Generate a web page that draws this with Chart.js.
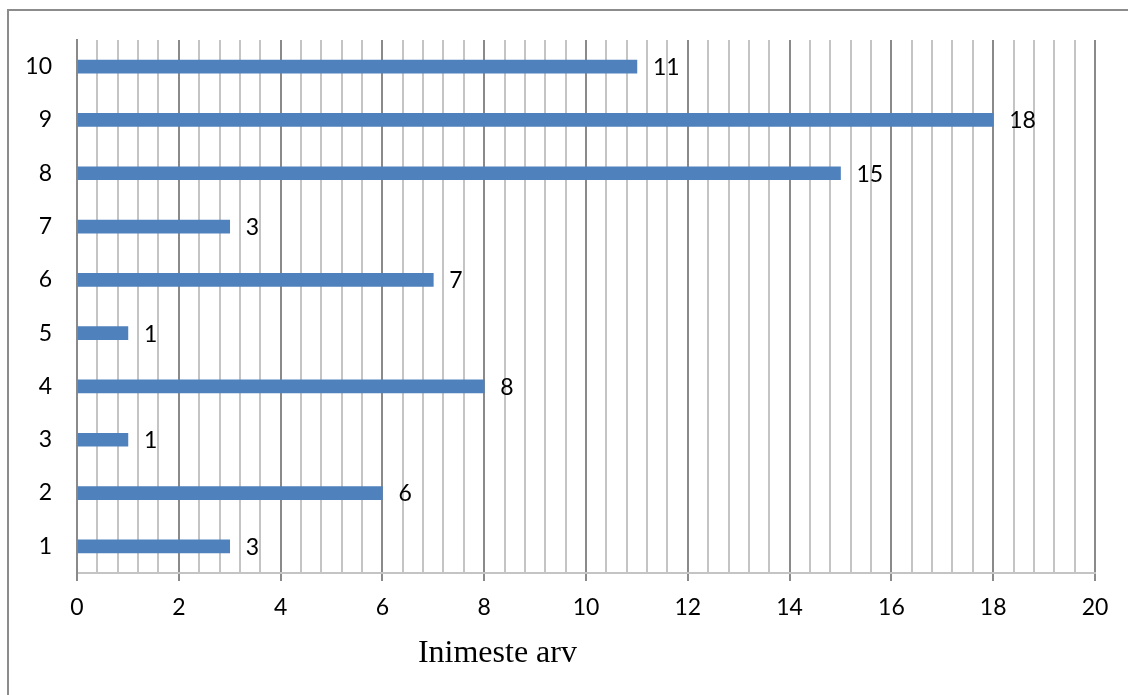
<!DOCTYPE html>
<html>
<head>
<meta charset="utf-8">
<script src="https://cdn.jsdelivr.net/npm/chart.js@4.4.1/dist/chart.umd.min.js"></script>
<style>
  html, body { margin: 0; padding: 0; background: #ffffff; }
  #wrap { width: 1128px; height: 695px; position: relative; }
</style>
</head>
<body>
<div id="wrap"><canvas id="c"></canvas></div>
<script>
// Categories 1..10 and the number of people in each
const categories = ['1', '2', '3', '4', '5', '6', '7', '8', '9', '10'];
const peopleCount = [3, 6, 1, 8, 1, 7, 3, 15, 18, 11];
const axisTitle = 'Inimeste arv';
const xMin = 0, xMax = 20, minorStep = 0.4, majorStep = 2;

const isMajor = v => Math.abs(v / majorStep - Math.round(v / majorStep)) < 1e-6;
const labelFont = 'Lato, "DejaVu Sans", sans-serif';

// Outer frame (top and left edges) around the chart
const framePlugin = {
  id: 'frame',
  beforeDraw(chart) {
    const ctx = chart.ctx;
    ctx.save();
    ctx.strokeStyle = '#8c8c8c';
    ctx.lineWidth = 2;
    ctx.beginPath();
    ctx.moveTo(1128, 10);
    ctx.lineTo(8, 10);
    ctx.lineTo(8, 695);
    ctx.stroke();
    ctx.restore();
  }
};

// Value labels to the right of each bar, and the axis title
const labelPlugin = {
  id: 'valueLabels',
  afterDatasetsDraw(chart) {
    const ctx = chart.ctx;
    const meta = chart.getDatasetMeta(0);
    ctx.save();
    ctx.fillStyle = '#000000';
    ctx.font = '23px ' + labelFont;
    ctx.textAlign = 'left';
    ctx.textBaseline = 'middle';
    meta.data.forEach((bar, i) => {
      ctx.fillText(String(peopleCount[i]), bar.x + 16, bar.y + 1);
    });
    ctx.font = '32px "Liberation Serif", "Times New Roman", serif';
    ctx.textAlign = 'center';
    ctx.textBaseline = 'alphabetic';
    const area = chart.chartArea;
    ctx.fillText(axisTitle, area.left + (area.right - area.left) * 0.413, 662);
    ctx.restore();
  }
};

new Chart(document.getElementById('c'), {
  type: 'bar',
  data: {
    labels: categories,
    datasets: [{
      data: peopleCount,
      backgroundColor: '#4f81bd',
      borderWidth: 0,
      barThickness: 13
    }]
  },
  plugins: [framePlugin, labelPlugin],
  options: {
    indexAxis: 'y',
    responsive: true,
    maintainAspectRatio: false,
    animation: false,
    layout: { padding: { left: 0, top: 40, right: 33, bottom: 0 } },
    plugins: { legend: { display: false }, tooltip: { enabled: false } },
    scales: {
      x: {
        min: xMin,
        max: xMax,
        afterFit(scale) { scale.height = 122; },
        ticks: {
          stepSize: minorStep,
          autoSkip: false,
          maxRotation: 0,
          padding: 13,
          color: '#000000',
          font: { family: labelFont, size: 23 },
          callback: v => isMajor(v) ? String(Math.round(v)) : ''
        },
        grid: {
          color: ctx => isMajor(ctx.tick.value) ? '#8a8a8a' : '#c4c4c4',
          lineWidth: 2,
          tickLength: 8,
          tickColor: ctx => isMajor(ctx.tick.value) ? '#8a8a8a' : 'rgba(0,0,0,0)'
        },
        border: { color: '#c4c4c4', width: 2 }
      },
      y: {
        reverse: true,
        afterFit(scale) { scale.width = 77; },
        ticks: {
          padding: 25,
          color: '#000000',
          font: { family: labelFont, size: 23 }
        },
        grid: { display: false, drawTicks: false },
        border: { color: '#8a8a8a', width: 2 }
      }
    }
  }
});
</script>
</body>
</html>
